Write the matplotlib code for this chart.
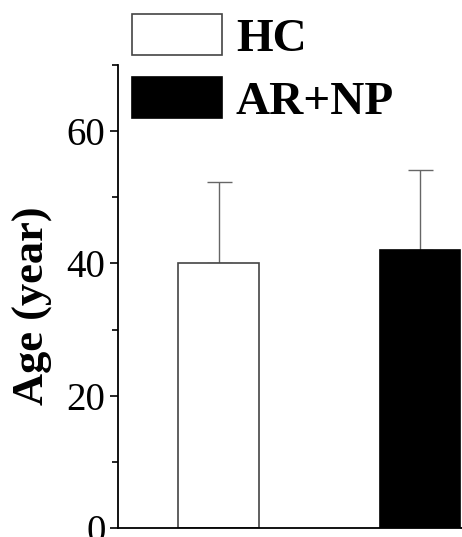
import numpy as np
import matplotlib
matplotlib.use('Agg')
import matplotlib.pyplot as plt
from matplotlib.ticker import MultipleLocator

# Datos
grupos = ['HC', 'AR+NP']
edad_media = [40.0, 42.0]
edad_sd = [12.3, 12.1]
colores = ['white', 'black']
bordes = ['#444444', 'black']

plt.rcParams['font.family'] = ['Liberation Serif', 'DejaVu Serif']

fig = plt.figure(figsize=(4.62, 5.37), dpi=100)
ax = fig.add_axes([0.2554, 0.0168, 0.7446, 0.8622])

x = np.arange(1, len(grupos) + 1)
ax.bar(x, edad_media, width=0.4, color=colores, edgecolor=bordes,
       linewidth=1.2, zorder=2)
ax.errorbar(x, edad_media, yerr=[np.zeros(len(edad_sd)), edad_sd], fmt='none',
            ecolor='#666666', elinewidth=1.0, capsize=9, capthick=1.0, zorder=1)

ax.set_xlim(0.5, 2.21)
ax.set_ylim(0, 70)
ax.yaxis.set_major_locator(MultipleLocator(20))
ax.yaxis.set_minor_locator(MultipleLocator(10))
ax.set_xticks([])
ax.tick_params(axis='y', which='major', direction='out', length=6, width=1.2,
               labelsize=28, pad=3)
ax.tick_params(axis='y', which='minor', direction='out', length=4, width=1.2)

ax.spines['top'].set_visible(False)
ax.spines['right'].set_visible(False)
ax.spines['left'].set_linewidth(1.3)
ax.spines['bottom'].set_linewidth(1.3)

ax.set_ylabel('Age (year)', fontsize=32, fontweight='bold')
ax.yaxis.set_label_coords(-0.19, 0.48)

# Leyenda
handles = [plt.Rectangle((0, 0), 1, 1, facecolor=c, edgecolor=e, linewidth=1.2)
           for c, e in zip(colores, bordes)]
fig.legend(handles, grupos, loc='upper left', bbox_to_anchor=(132 / 462, 1 - 14 / 537),
           frameon=False, prop={'size': 34, 'weight': 'bold'},
           handlelength=1.9, handleheight=0.95, handletextpad=0.3,
           labelspacing=0.35, borderpad=0, borderaxespad=0)

fig.savefig('out.png', dpi=100)
